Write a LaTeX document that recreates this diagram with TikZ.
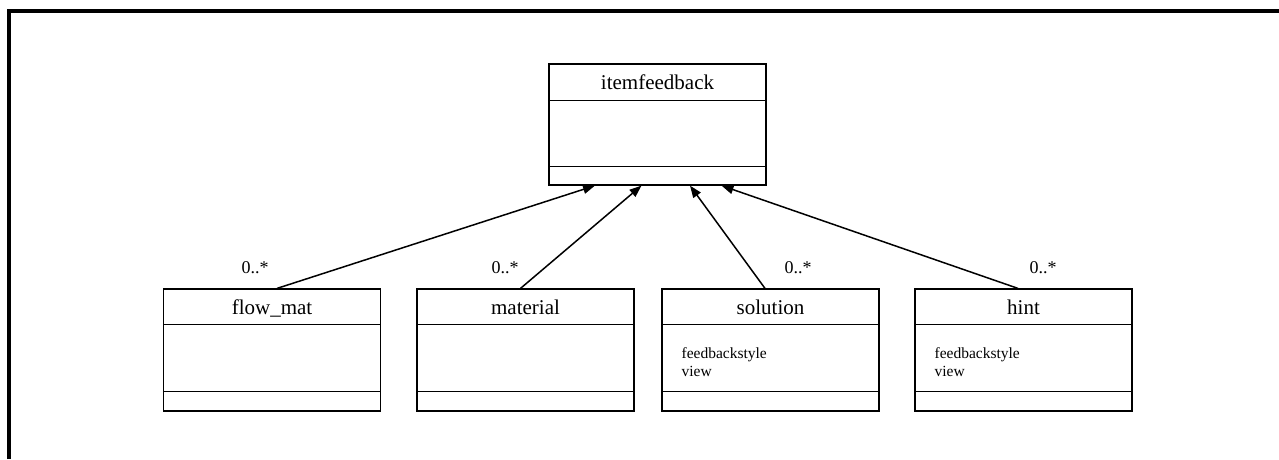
\documentclass[tikz,border=0pt]{standalone}
\usepackage{fontspec}
\setmainfont{Liberation Serif}
\usetikzlibrary{arrows.meta, positioning, calc}
\tikzset{
    classbox/.style={draw, line width=1.2pt, minimum width=217pt,
                     minimum height=122pt, inner sep=0pt},
    classname/.style={anchor=base, inner sep=0pt, font=\fontsize{21}{25}\selectfont},
    attrs/.style={anchor=north west, align=left, inner sep=0pt,
                  font=\fontsize{15.5}{18}\selectfont},
    mult/.style={inner sep=0pt, font=\fontsize{18}{20}\selectfont},
    sep/.style={line width=1.2pt},
    genedge/.style={-{Triangle[length=12pt, width=9pt]}, line width=1.5pt},
    frame/.style={line width=4pt},
}

\begin{document}
\begin{tikzpicture}[x=1pt, y=-1pt]
    \useasboundingbox (0,0) rectangle (1279,459);
    \draw[frame] (9,459) -- (9,11) -- (1279,11);

    \node[classbox, minimum height=121pt] (item) at (657.5,124.5) {};
    \node[classbox] (flow) at (272,350) {};
    \node[classbox] (mat)  at (525.5,350) {};
    \node[classbox] (sol)  at (770.5,350) {};
    \node[classbox] (hint) at (1023.5,350) {};

    \node[classname] (itemname) at ([yshift=-26.5pt]item.north) {itemfeedback};
    \node[classname] (flowname) at ([yshift=-26pt]flow.north) {flow\_mat};
    \node[classname] (matname)  at ([yshift=-26pt]mat.north)  {material};
    \node[classname] (solname)  at ([yshift=-26pt]sol.north)  {solution};
    \node[classname] (hintname) at ([yshift=-26pt]hint.north) {hint};

    \draw[sep] ([yshift=-37pt]item.north west) -- ([yshift=-37pt]item.north east);
    \draw[sep] ([yshift=19pt]item.south west) -- ([yshift=19pt]item.south east);
    \foreach \c in {flow, mat, sol, hint} {
        \draw[sep] ([yshift=-36pt]\c.north west) -- ([yshift=-36pt]\c.north east);
        \draw[sep] ([yshift=20pt]\c.south west) -- ([yshift=20pt]\c.south east);
    }

    \node[attrs] (solattr)  at ([xshift=20pt, yshift=-59pt]sol.north west)  {feedbackstyle\\view};
    \node[attrs] (hintattr) at ([xshift=20pt, yshift=-59pt]hint.north west) {feedbackstyle\\view};

    \draw[genedge] ([xshift=5pt]flow.north)  -- ([xshift=-62.5pt]item.south);
    \draw[genedge] ([xshift=-5pt]mat.north)  -- ([xshift=-16pt]item.south);
    \draw[genedge] ([xshift=-5.5pt]sol.north) -- ([xshift=32.5pt]item.south);
    \draw[genedge] ([xshift=-5.5pt]hint.north) -- ([xshift=64pt]item.south);

    \node[mult] (flowmult) at (255,268)  {0..*};
    \node[mult] (matmult)  at (505,268)  {0..*};
    \node[mult] (solmult)  at (798,268)  {0..*};
    \node[mult] (hintmult) at (1043,268) {0..*};
\end{tikzpicture}
\end{document}
